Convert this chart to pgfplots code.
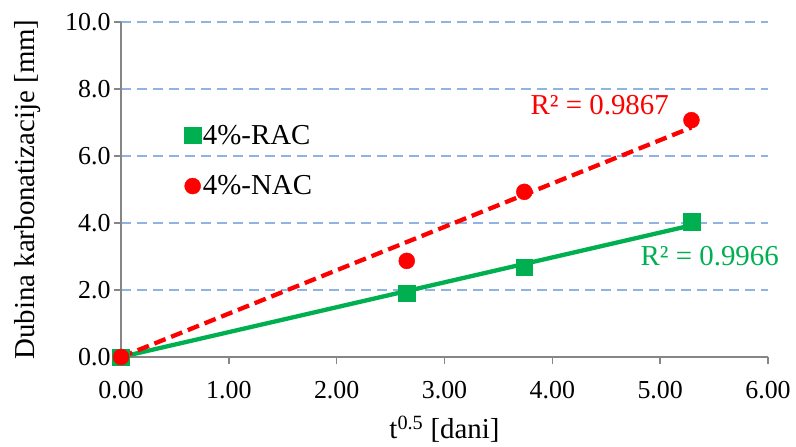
\documentclass[border=0pt]{standalone}
\usepackage{fontspec}
\setmainfont{Liberation Serif}
\usepackage{pgfplots}
\pgfplotsset{compat=1.18}
\definecolor{cgreen}{HTML}{00B050}
\definecolor{cred}{HTML}{FF0000}
\definecolor{cgrid}{HTML}{8EB4E3}
\definecolor{caxis}{HTML}{868686}
\begin{document}
\begin{tikzpicture}
\path[use as bounding box] (-121bp,-90bp) rectangle (675bp,335bp+22bp);
\begin{axis}[
  at={(0,0)}, anchor=origin,
  scale only axis, width=647bp, height=335bp,
  xmin=0, xmax=6, ymin=0, ymax=10,
  xtick={0,1,...,6}, ytick={0,2,...,10},
  axis x line*=bottom, axis y line*=left,
  axis line style={caxis, line width=1.8bp, -},
  tick style={caxis, line width=1.5bp},
  tick align=outside, major tick length=7bp,
  ymajorgrids, grid style={cgrid, line width=1.5bp, dash pattern=on 10bp off 6bp},
  /pgf/number format/assume math mode=true,
  xticklabel style={/pgf/number format/.cd, fixed, fixed zerofill, precision=2, /tikz/.cd, yshift=-14bp},
  yticklabel style={/pgf/number format/.cd, fixed, fixed zerofill, precision=1},
  ticklabel style={font=\fontsize{26}{30}\selectfont},
  label style={font=\fontsize{29}{34}\selectfont},
  xlabel={t\textsuperscript{0.5} [dani]},
  ylabel={Dubina karbonatizacije [mm]},
  xlabel style={yshift=-10bp},
  ylabel style={yshift=18bp},
  legend style={draw=none, fill=none, font=\fontsize{29}{34}\selectfont,
    at={(0.093,0.705)}, anchor=north west, row sep=26bp,
    /tikz/every even column/.append style={column sep=6bp}},
  legend cell align=left,
  clip=false,
]
\addplot[cgreen, line width=4.3bp, forget plot] coordinates {(0,0) (5.29,3.93)};
\addplot[cred, line width=4.3bp, dash pattern=on 12bp off 6bp, forget plot] coordinates {(0,0) (5.29,6.85)};
\addplot[only marks, mark=square*, mark size=8.3bp, cgreen] coordinates {(0,0) (2.65,1.91) (3.74,2.68) (5.29,4.03)};
\addlegendentry{4\%-RAC}
\addplot[only marks, mark=*, mark size=8bp, cred] coordinates {(0,0) (2.65,2.87) (3.74,4.93) (5.29,7.07)};
\addlegendentry{4\%-NAC}
\node[cred, font=\fontsize{29}{34}\selectfont] at (axis cs:4.44,7.52) {R² = 0.9867};
\node[cgreen, font=\fontsize{29}{34}\selectfont] at (axis cs:5.46,3.0) {R² = 0.9966};
\end{axis}
\end{tikzpicture}
\end{document}
